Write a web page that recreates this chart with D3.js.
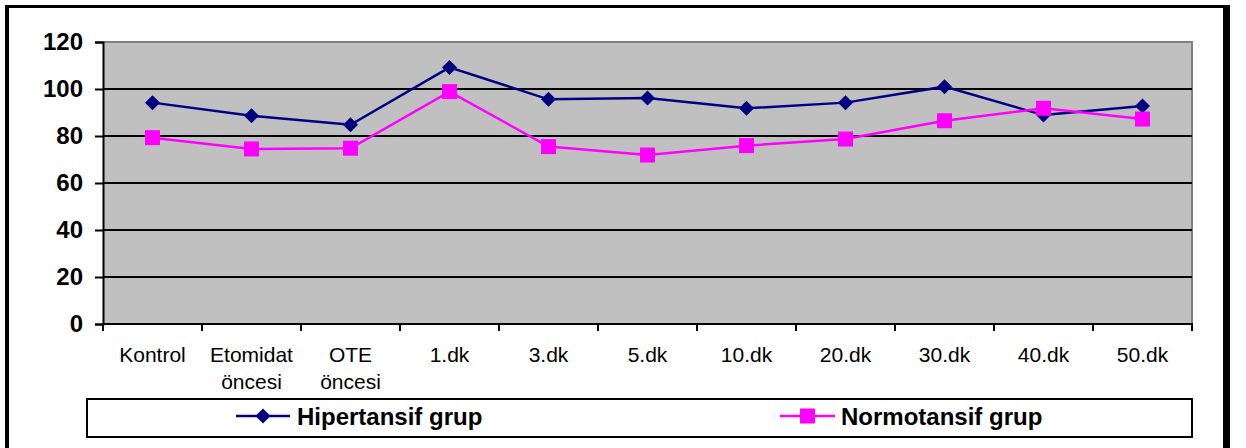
<!DOCTYPE html>
<html>
<head>
<meta charset="utf-8">
<script src="https://cdn.jsdelivr.net/npm/d3@7"></script>
<style>
  html, body { margin: 0; padding: 0; background: #fff; }
  svg { display: block; }
  text { font-family: "Liberation Sans", Arial, sans-serif; fill: #000; }
</style>
</head>
<body>
<svg id="chart" width="1246" height="448"></svg>
<script>
// Time points (two-line labels separated by "|")
const categories = ["Kontrol", "Etomidat|öncesi", "OTE|öncesi", "1.dk", "3.dk", "5.dk",
                    "10.dk", "20.dk", "30.dk", "40.dk", "50.dk"];
const hipertansif = [94.2, 88.6, 84.8, 109.2, 95.6, 96.2, 91.8, 94.2, 101.0, 88.9, 92.8];
const normotansif = [79.3, 74.5, 74.8, 98.9, 75.5, 71.9, 75.9, 78.7, 86.5, 91.8, 87.2];
const yTicks = [0, 20, 40, 60, 80, 100, 120];
const seriesNames = ["Hipertansif grup", "Normotansif grup"];

const svg = d3.select("#chart");
const plot = { left: 103, top: 42, right: 1192, bottom: 324 };

const x = d3.scaleBand().domain(categories).range([plot.left, plot.right]).padding(0);
const y = d3.scaleLinear().domain([0, 120]).range([plot.bottom, plot.top]);

// Outer frame (open at the bottom)
svg.append("rect").attr("x", 5).attr("y", 5).attr("width", 4).attr("height", 443).attr("fill", "#000");
svg.append("rect").attr("x", 5).attr("y", 5).attr("width", 1225).attr("height", 3).attr("fill", "#000");
svg.append("rect").attr("x", 1223).attr("y", 5).attr("width", 7).attr("height", 443).attr("fill", "#000");

// Plot background
svg.append("rect")
  .attr("x", plot.left).attr("y", plot.top)
  .attr("width", plot.right - plot.left).attr("height", plot.bottom - plot.top)
  .attr("fill", "#c0c0c0");
// Top/right plot edges in gray
svg.append("path")
  .attr("d", `M${plot.left},${plot.top}H${plot.right}V${plot.bottom}`)
  .attr("fill", "none").attr("stroke", "#808080").attr("stroke-width", 2);

// Horizontal gridlines
svg.append("g").selectAll("line")
  .data(yTicks.filter(d => d > 0 && d < 120))
  .join("line")
  .attr("x1", plot.left).attr("x2", plot.right)
  .attr("y1", d => y(d)).attr("y2", d => y(d))
  .attr("stroke", "#000").attr("stroke-width", 2);

// Y axis
const yAxis = svg.append("g")
  .attr("transform", `translate(${plot.left},0)`)
  .call(d3.axisLeft(y).tickValues(yTicks).tickSize(8).tickPadding(12));
yAxis.select(".domain").attr("stroke", "#000").attr("stroke-width", 2);
yAxis.selectAll(".tick line").attr("stroke", "#000").attr("stroke-width", 2);
yAxis.selectAll(".tick text")
  .attr("font-size", 24).attr("font-weight", "bold")
  .attr("font-family", "Liberation Sans, Arial, sans-serif")
  .attr("fill", "#000");

// X axis line
svg.append("line")
  .attr("x1", plot.left - 1).attr("x2", plot.right + 1)
  .attr("y1", plot.bottom).attr("y2", plot.bottom)
  .attr("stroke", "#000").attr("stroke-width", 2);

// X tick marks between categories
const boundaries = categories.map(c => x(c)).concat([plot.right]);
svg.append("g").selectAll("line")
  .data(boundaries)
  .join("line")
  .attr("x1", d => d).attr("x2", d => d)
  .attr("y1", plot.bottom).attr("y2", plot.bottom + 7)
  .attr("stroke", "#000").attr("stroke-width", 2);

// X labels
const xl = svg.append("g").selectAll("text")
  .data(categories)
  .join("text")
  .attr("x", d => x(d) + x.bandwidth() / 2)
  .attr("y", 362)
  .attr("text-anchor", "middle")
  .attr("font-size", 21);
xl.each(function(d) {
  const parts = d.split("|");
  const t = d3.select(this);
  parts.forEach((p, i) => {
    t.append("tspan")
      .attr("x", x(d) + x.bandwidth() / 2)
      .attr("dy", i === 0 ? 0 : 27)
      .text(p);
  });
});

// Markers
const diamond = s => `M0,${-s}L${s},0L0,${s}L${-s},0Z`;
const square = s => `M${-s},${-s}H${s}V${s}H${-s}Z`;

const cx = c => x(c) + x.bandwidth() / 2;
const line = d3.line().x((d, i) => cx(categories[i])).y(d => y(d));

const series = [
  { name: seriesNames[0], values: hipertansif, color: "#000080", marker: diamond(7.5) },
  { name: seriesNames[1], values: normotansif, color: "#ff00ff", marker: square(7.5) }
];

series.forEach(s => {
  svg.append("path")
    .attr("d", line(s.values))
    .attr("fill", "none").attr("stroke", s.color).attr("stroke-width", 2.5);
  svg.append("g").selectAll("path")
    .data(s.values)
    .join("path")
    .attr("transform", (d, i) => `translate(${cx(categories[i])},${y(d)})`)
    .attr("d", s.marker)
    .attr("fill", s.color);
});

// Legend
svg.append("rect")
  .attr("x", 87).attr("y", 399).attr("width", 1105).attr("height", 38)
  .attr("fill", "#fff").attr("stroke", "#000").attr("stroke-width", 2);

const legendItems = [
  { s: series[0], x0: 236, x1: 290, tx: 297 },
  { s: series[1], x0: 780, x1: 835, tx: 841 }
];
legendItems.forEach(li => {
  const ly = 416;
  svg.append("line")
    .attr("x1", li.x0).attr("x2", li.x1).attr("y1", ly).attr("y2", ly)
    .attr("stroke", li.s.color).attr("stroke-width", 2.5);
  svg.append("path")
    .attr("transform", `translate(${(li.x0 + li.x1) / 2},${ly})`)
    .attr("d", li.s.marker)
    .attr("fill", li.s.color);
  svg.append("text")
    .attr("x", li.tx).attr("y", 425)
    .attr("font-size", 24).attr("font-weight", "bold")
    .text(li.s.name);
});
</script>
</body>
</html>
